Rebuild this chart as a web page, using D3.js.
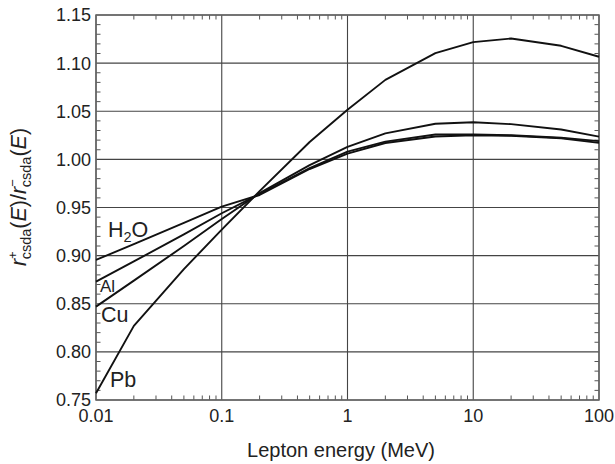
<!DOCTYPE html>
<html><head><meta charset="utf-8">
<script src="https://cdn.jsdelivr.net/npm/d3@7"></script>
<style>
body{margin:0;background:#fff;}
text{font-family:"Liberation Sans",Arial,sans-serif;fill:#222;}
</style></head>
<body><svg id="c" width="615" height="464"></svg>
<script>
const energies = [0.01, 0.02, 0.05, 0.1, 0.2, 0.5, 1, 2, 5, 10, 20, 50, 100];
const h2o = [0.8955, 0.912, 0.934, 0.951, 0.963, 0.990, 1.006, 1.017, 1.0237, 1.025, 1.0245, 1.022, 1.0172];
const al  = [0.873, 0.894, 0.922, 0.944, 0.964, 0.991, 1.008, 1.0185, 1.0258, 1.0258, 1.025, 1.0225, 1.019];
const cu  = [0.847, 0.874, 0.910, 0.938, 0.965, 0.994, 1.013, 1.027, 1.037, 1.0386, 1.0366, 1.031, 1.0237];
const pb  = [0.757, 0.827, 0.886, 0.927, 0.967, 1.018, 1.0515, 1.0826, 1.1104, 1.1218, 1.1256, 1.118, 1.1066];
const xTickValues = [0.01, 0.1, 1, 10, 100];
const xTickLabels = ["0.01", "0.1", "1", "10", "100"];
const yTickValues = [0.75, 0.80, 0.85, 0.90, 0.95, 1.00, 1.05, 1.10, 1.15];
const yTickLabels = ["0.75", "0.80", "0.85", "0.90", "0.95", "1.00", "1.05", "1.10", "1.15"];

const L = 96, R = 599, T = 15, B = 400;
const svg = d3.select("#c");
const x = d3.scaleLog().domain([0.01, 100]).range([L, R]);
const y = d3.scaleLinear().domain([0.75, 1.15]).range([B, T]);

// minor ticks
const xMinor = [];
[0.01, 0.1, 1, 10].forEach(d => { for (let k = 2; k <= 9; k++) xMinor.push(d * k); });
const yMinor = d3.range(75, 116).filter(v => v % 5 !== 0).map(v => v / 100);
const tk = 4.5;
const g = svg.append("g").attr("stroke", "#555").attr("stroke-width", 1);
xMinor.forEach(v => {
  g.append("line").attr("x1", x(v)).attr("x2", x(v)).attr("y1", B).attr("y2", B - tk);
  g.append("line").attr("x1", x(v)).attr("x2", x(v)).attr("y1", T).attr("y2", T + tk);
});
yMinor.forEach(v => {
  g.append("line").attr("x1", L).attr("x2", L + tk).attr("y1", y(v)).attr("y2", y(v));
  g.append("line").attr("x1", R).attr("x2", R - tk).attr("y1", y(v)).attr("y2", y(v));
});
// grid
const grid = svg.append("g").attr("stroke", "#444").attr("stroke-width", 1.1);
xTickValues.forEach(v => grid.append("line").attr("x1", x(v)).attr("x2", x(v)).attr("y1", T).attr("y2", B));
yTickValues.forEach(v => grid.append("line").attr("x1", L).attr("x2", R).attr("y1", y(v)).attr("y2", y(v)));
// frame
svg.append("rect").attr("x", L).attr("y", T).attr("width", R - L).attr("height", B - T)
  .attr("fill", "none").attr("stroke", "#666").attr("stroke-width", 1.5);

// tick labels
svg.append("g").selectAll("text").data(xTickValues).join("text")
  .attr("x", d => x(d)).attr("y", 422).attr("text-anchor", "middle")
  .attr("font-size", 18).text((d, i) => xTickLabels[i]);
svg.append("g").selectAll("text").data(yTickValues).join("text")
  .attr("x", L - 5).attr("y", d => y(d)).attr("dy", "0.36em").attr("text-anchor", "end")
  .attr("font-size", 18).text((d, i) => yTickLabels[i]);

// axis titles
svg.append("text").attr("x", 341).attr("y", 457).attr("text-anchor", "middle")
  .attr("font-size", 20).text("Lepton energy (MeV)");
const yt = svg.append("text").attr("transform", "translate(26,197) rotate(-90)")
  .attr("text-anchor", "middle").attr("font-size", 21.5);
yt.append("tspan").attr("font-style", "italic").text("r");
yt.append("tspan").attr("font-size", 13).attr("dy", -9).text("+");
yt.append("tspan").attr("font-size", 14.5).attr("dx", -8).attr("dy", 14).text("csda");
yt.append("tspan").attr("dy", -5).text("(");
yt.append("tspan").attr("font-style", "italic").text("E");
yt.append("tspan").text(")/");
yt.append("tspan").attr("font-style", "italic").text("r");
yt.append("tspan").attr("font-size", 13).attr("dy", -9).text("\u2212");
yt.append("tspan").attr("font-size", 14.5).attr("dx", -8).attr("dy", 14).text("csda");
yt.append("tspan").attr("dy", -5).text("(");
yt.append("tspan").attr("font-style", "italic").text("E");
yt.append("tspan").text(")");

// curves
const line = d3.line().x((d, i) => x(energies[i])).y(d => y(d));
[h2o, al, cu, pb].forEach(s => {
  svg.append("path").attr("d", line(s)).attr("fill", "none")
    .attr("stroke", "#111").attr("stroke-width", 1.9).attr("stroke-linejoin", "round");
});

// series labels
const h = svg.append("text").attr("x", 108).attr("y", 237).attr("font-size", 21.5);
h.append("tspan").text("H");
h.append("tspan").attr("font-size", 14.5).attr("dy", 5).text("2");
h.append("tspan").attr("dy", -5).text("O");
svg.append("text").attr("x", 100).attr("y", 292).attr("font-size", 17).text("Al");
svg.append("text").attr("x", 101).attr("y", 322).attr("font-size", 21.5).text("Cu");
svg.append("text").attr("x", 110).attr("y", 387).attr("font-size", 21.5).text("Pb");
</script></body></html>
